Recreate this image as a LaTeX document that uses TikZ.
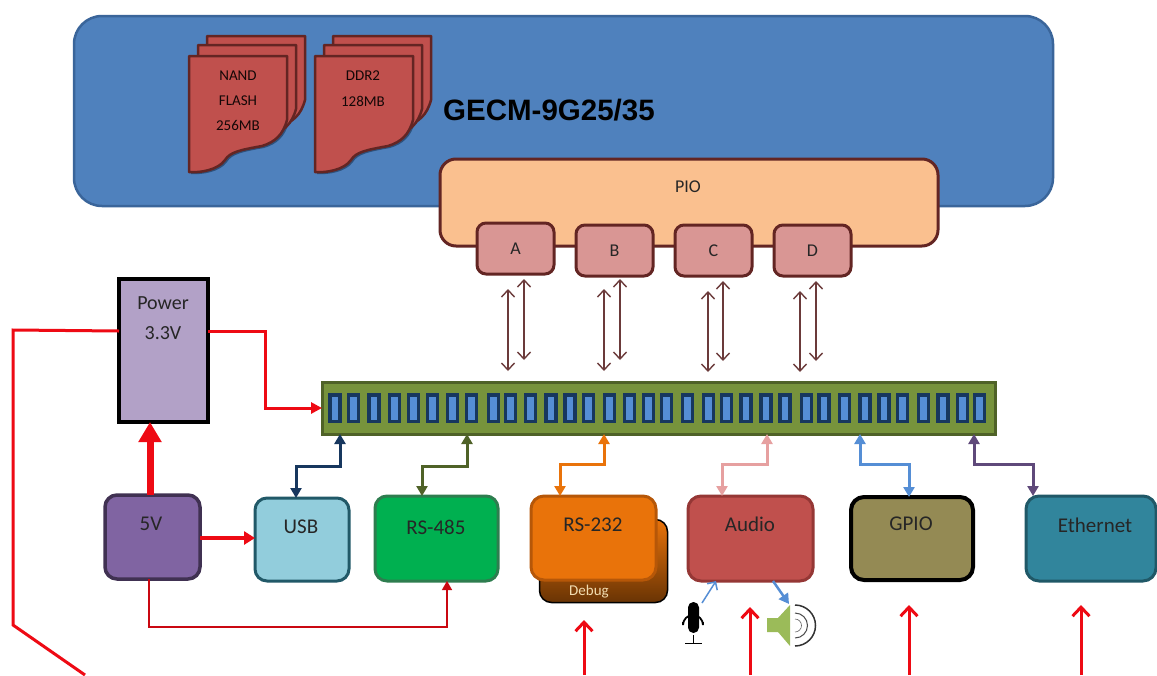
\documentclass[tikz,border=0pt]{standalone}
\usepackage{fontspec}
\setmainfont{Carlito}
\newfontfamily\titlefont{Liberation Sans}
\usetikzlibrary{arrows.meta}
\definecolor{bluebg}{HTML}{4F81BD}
\definecolor{blueln}{HTML}{3A659A}
\definecolor{cardf}{HTML}{C0504D}
\definecolor{maroon}{HTML}{632523}
\definecolor{piof}{HTML}{FAC08F}
\definecolor{portf}{HTML}{D99694}
\definecolor{hdrf}{HTML}{77933C}
\definecolor{hdrl}{HTML}{4F6228}
\definecolor{navy}{HTML}{17375E}
\definecolor{pinf}{HTML}{558ED5}
\definecolor{pwrf}{HTML}{B2A1C7}
\definecolor{vf}{HTML}{8064A2}
\definecolor{vl}{HTML}{403152}
\definecolor{usbf}{HTML}{92CDDC}
\definecolor{usbl}{HTML}{215968}
\definecolor{rsf}{HTML}{00B050}
\definecolor{rsl}{HTML}{2E7D4F}
\definecolor{orf}{HTML}{E9730A}
\definecolor{orl}{HTML}{B65708}
\definecolor{audl}{HTML}{953735}
\definecolor{audc}{HTML}{E6A0A0}
\definecolor{gpf}{HTML}{948A54}
\definecolor{ethf}{HTML}{31859C}
\definecolor{ethl}{HTML}{205867}
\definecolor{ethc}{HTML}{5F497A}
\definecolor{spk}{HTML}{9BBB59}
\definecolor{brwn}{HTML}{6B3A3A}
\definecolor{debugt}{HTML}{F2DCB0}
\definecolor{redl}{HTML}{EE0A14}
\tikzset{
  blockbase/.style={draw,inner sep=0pt,outer sep=0pt},
  lbl/.style={inner sep=0pt,text=black!85,font=\fontsize{21}{21}\selectfont},
  small/.style={inner sep=0pt,text=black!80!maroon,font=\fontsize{15}{15}\selectfont},
  portline/.style={line width=1.4pt,draw=brwn,{Straight Barb[width=13pt,length=7pt]}-{Straight Barb[width=13pt,length=7pt]}},
  bus/.style={line width=3pt,{Triangle[width=11pt,length=10pt]}-{Triangle[width=11pt,length=10pt]}},
  redarrow/.style={line width=3pt,draw=redl,-{Triangle[width=11pt,length=11pt]}},
  redopen/.style={line width=3pt,draw=redl,-{Straight Barb[width=17pt,length=9pt]}},
  card/.style={fill=cardf,draw=maroon,line width=2.5pt,line join=round},
}
\newcommand{\blk}[6]{\node[blockbase,#6,minimum width={(#4-#2)*1pt},minimum height={(#5-#3)*1pt}] (#1) at ({(#2+#4)/2},{(#3+#5)/2}) {};}
\newcommand{\cardpath}[2]{(#1+189,#2+56) -- (#1+287,#2+56) -- (#1+287,#2+120) .. controls (#1+283,#2+135) and (#1+275,#2+142) .. (#1+262,#2+146) .. controls (#1+240,#2+150) and (#1+230,#2+152) .. (#1+225,#2+160) .. controls (#1+218,#2+170) and (#1+200,#2+173) .. (#1+189,#2+172) -- cycle}
\newcommand{\cardstack}[1]{%
  \fill[blueln!80!black] \cardpath{#1+2}{2};
  \draw[card] \cardpath{#1+18}{-20};
  \draw[card] \cardpath{#1+9}{-11};
  \draw[card] \cardpath{#1}{0};
}
\begin{document}
\begin{tikzpicture}[x=1pt,y=-1pt]
\useasboundingbox (0,0) rectangle (1157,675);
\fill[white] (0,0) rectangle (1157,675);

% main module
\blk{gecm}{74}{16}{1053}{206}{fill=bluebg,draw=blueln,line width=2.5pt,rounded corners=28pt}
\cardstack{0}
\cardstack{126}
\node[small] (nand1) at (238,76) {NAND};
\node[small] (nand2) at (238,101) {FLASH};
\node[small] (nand3) at (238,125) {256MB};
\node[small] (ddr1) at (363,76) {DDR2};
\node[small] (ddr2) at (363,101) {128MB};
\node[inner sep=0pt,anchor=west,text=black,font=\titlefont\bfseries\fontsize{29.5}{30}\selectfont] (title) at (443,110) {GECM-9G25/35};

% PIO
\blk{pio}{440}{159}{938}{246}{fill=piof,draw=maroon,line width=3pt,rounded corners=16pt}
\node[inner sep=0pt,text=black!85,font=\fontsize{18}{18}\selectfont] (piot) at (688,187) {PIO};
\foreach \n/\xa/\ya/\t in {A/477/223/A,B/576/225/B,C/675/225/C,D/774/225/D}{
  \pgfmathsetmacro{\xb}{\xa+77}
  \pgfmathsetmacro{\yb}{\ya+51}
  \blk{port\n}{\xa}{\ya}{\xb}{\yb}{fill=portf,draw=maroon,line width=3pt,rounded corners=9pt}
  \node[inner sep=0pt,text=black!85,font=\fontsize{18}{18}\selectfont] (port\n t) at (port\n.center) {\t};
}

% header
\blk{hdr}{322}{382}{995}{434}{fill=hdrf,draw=hdrl,line width=3pt}
\foreach \i/\x in {1/335,2/353.3,3/374,4/394.3,5/413.3,6/432.3,7/452.3,8/471.3,9/493.3,10/510.7,11/530.7,12/551,13/570,14/588.7,15/609.3,16/629.3,17/648.3,18/666.7,19/687.7,20/708.3,21/726.7,22/746,23/766,24/785,25/806.7,26/824,27/844.3,28/865,29/884,30/902.7,31/923.3,32/943,33/962.3,34/979.3}{
  \node[draw=navy,fill=pinf,line width=3.5pt,inner sep=0pt,outer sep=0pt,minimum width=10pt,minimum height=26.5pt] (pin\i) at (\x,408) {};
}

% port connectors
\draw[portline] (508,289) -- (508,371);
\draw[portline] (524,279) -- (524,360);
\draw[portline] (604,289) -- (604,371);
\draw[portline] (620,279) -- (620,360);
\draw[portline] (708,291) -- (708,372);
\draw[portline] (723,281) -- (723,361);
\draw[portline] (800,291) -- (800,372);
\draw[portline] (816,281) -- (816,361);

% power
\blk{power}{119}{279}{208}{422}{fill=pwrf,draw=black,line width=4pt}
\node[lbl,font=\fontsize{20}{20}\selectfont] (powert) at (163,303) {Power};
\node[lbl,font=\fontsize{20}{20}\selectfont] (powerv) at (163,333) {3.3V};
\blk{five}{105}{495}{200}{579}{fill=vf,draw=vl,line width=3.5pt,rounded corners=12pt}
\node[lbl] (fivet) at (151,524) {5V};

% peripherals
\blk{usb}{255}{498}{349}{581}{fill=usbf,draw=usbl,line width=3pt,rounded corners=12pt}
\node[lbl] (usbt) at (301,527) {USB};
\blk{rsf}{375}{496}{498}{581}{fill=rsf,draw=rsl,line width=3pt,rounded corners=12pt}
\node[lbl] (rsft) at (436,527) {RS-485};
\node[blockbase,draw=black,line width=1.5pt,rounded corners=12pt,top color=orf,bottom color=orf!45!black,minimum width=128pt,minimum height=83pt] (debug) at (603.5,561) {};
\blk{rst}{531}{496}{656}{580}{fill=orf,draw=orl,line width=3pt,rounded corners=13pt}
\node[lbl] (rstt) at (593,525) {RS-232};
\node[inner sep=0pt,text=debugt,font=\fontsize{15}{15}\selectfont] (debugt) at (589,592) {Debug};
\blk{audio}{688}{496}{813}{581}{fill=cardf,draw=audl,line width=3pt,rounded corners=13pt}
\node[lbl] (audiot) at (750,524) {Audio};
\blk{gpio}{851}{497}{973}{580}{fill=gpf,draw=black,line width=4pt,rounded corners=13pt}
\node[lbl] (gpiot) at (911,524) {GPIO};
\blk{eth}{1026}{496}{1156}{581}{fill=ethf,draw=ethl,line width=3pt,rounded corners=13pt}
\node[lbl] (etht) at (1095,525) {Ethernet};

% buses
\draw[bus,draw=navy,color=navy] (usb.north -| 296,0) -- (296,466) -- (340,466) -- (hdr.south -| 340,0);
\draw[bus,draw=hdrl,color=hdrl] (rsf.north -| 422,0) -- (422,466) -- (467,466) -- (hdr.south -| 467,0);
\draw[bus,draw=orf,color=orf] (rst.north -| 560,0) -- (560,464) -- (604,464) -- (hdr.south -| 604,0);
\draw[bus,draw=audc,color=audc] (audio.north -| 722,0) -- (722,464) -- (767,464) -- (hdr.south -| 767,0);
\draw[bus,draw=pinf,color=pinf] (gpio.north -| 909,0) -- (909,464) -- (860,464) -- (hdr.south -| 860,0);
\draw[bus,draw=ethc,color=ethc] (eth.north -| 1033,0) -- (1033,464) -- (974,464) -- (hdr.south -| 974,0);

% power lines
\draw[redarrow] (power.east |- 0,331) -- (265,331) -- (265,408) -- (hdr.west |- 0,408);
\coordinate (leftend) at (85,675);
\draw[line width=3pt,draw=redl] (power.west |- 0,331) -- (13,330) -- (13,625) -- (leftend);
\draw[line width=7pt,draw=redl,-{Triangle[width=22pt,length=20pt]}] (five.north -| 150,0) -- (power.south -| 150,0);
\draw[line width=4.5pt,draw=redl,-{Triangle[width=13pt,length=11pt]}] (five.east |- 0,538) -- (usb.west |- 0,538);
\draw[line width=1.4pt,draw=redl!85!black,-{Triangle[width=10pt,length=9pt]}] (five.south -| 149,0) -- (149,627) -- (447,627) -- (rsf.south -| 447,0);

\coordinate (r1s) at (584,675); \coordinate (r1e) at (584,620);
\coordinate (r2s) at (750,675); \coordinate (r2e) at (750,607);
\coordinate (r3s) at (909,675); \coordinate (r3e) at (909,605);
\coordinate (r4s) at (1081,675); \coordinate (r4e) at (1081,605);
\draw[redopen] (r1s) -- (r1e);
\draw[redopen] (r2s) -- (r2e);
\draw[redopen] (r3s) -- (r3e);
\draw[redopen] (r4s) -- (r4e);

% microphone
\coordinate (mic) at (702,603);
\draw[line width=1.5pt,draw=pinf,-{Straight Barb[width=12pt,length=6pt]}] (mic) -- (audio.south -| 716,0);
\fill[black,rounded corners=5.4pt] (688,602) rectangle (699,633);
\draw[line width=1.8pt,black] (683,622) -- (683,625) arc[start angle=180,end angle=360,radius=10] -- (703,622);
\draw[line width=1.8pt,black] (693.5,635) -- (693.5,643);
\draw[line width=1.8pt,black] (685,643.5) -- (702,643.5);

% speaker
\fill[spk] (767,618) -- (778,618) -- (790,605) -- (790,646) -- (778,632) -- (767,632) -- cycle;
\coordinate (spkin) at (789,604);
\draw[line width=2.5pt,draw=pinf,-{Triangle[width=11pt,length=10pt]}] (audio.south -| 773,0) -- (spkin);
\draw[line width=1.5pt,black!80] (795,605) arc[start angle=-90,end angle=90,radius=20.5];
\draw[line width=1pt,black!70] (795,613) arc[start angle=-90,end angle=90,radius=12.5];
\draw[line width=0.6pt,black!60] (795,619) arc[start angle=-90,end angle=90,radius=6.5];
\end{tikzpicture}
\end{document}
